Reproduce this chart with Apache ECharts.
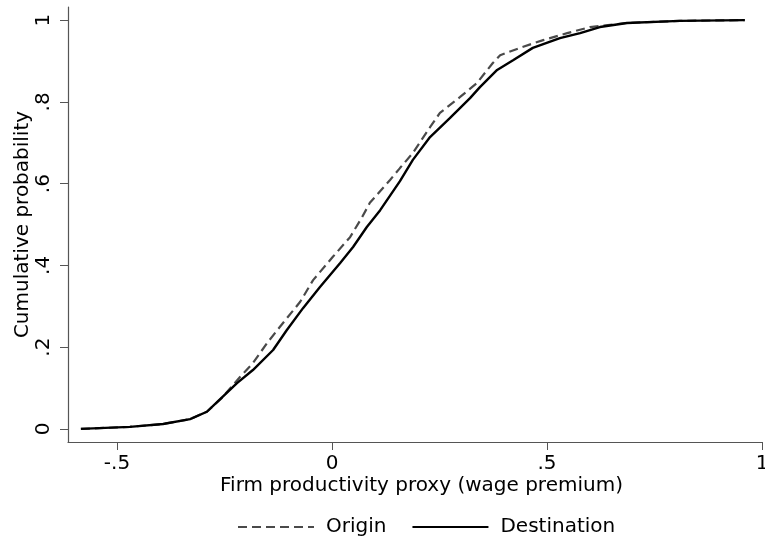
<!DOCTYPE html>
<html>
<head>
<meta charset="utf-8">
<script src="https://cdn.jsdelivr.net/npm/echarts@6/dist/echarts.min.js"></script>
<style>
  html, body { margin: 0; padding: 0; background: #fff; }
  #chart { width: 765px; height: 539px; }
</style>
</head>
<body>
<div id="chart"></div>
<script>
// values (CDF of firm wage premium)
const originX = [-0.584, -0.470, -0.393, -0.330, -0.291, -0.256, -0.214, -0.184, -0.151, -0.121, -0.074, -0.044, 0.002, 0.042, 0.070, 0.088, 0.135, 0.158, 0.188, 0.228, 0.251, 0.298, 0.337, 0.374, 0.391, 0.437, 0.491, 0.547, 0.600, 0.686, 0.809, 0.960];
const originY = [0.000, 0.005, 0.012, 0.024, 0.042, 0.076, 0.127, 0.161, 0.210, 0.250, 0.311, 0.364, 0.421, 0.469, 0.518, 0.553, 0.609, 0.638, 0.675, 0.738, 0.773, 0.812, 0.846, 0.895, 0.914, 0.932, 0.951, 0.968, 0.983, 0.993, 0.998, 1.000];

const destX = [-0.584, -0.470, -0.393, -0.330, -0.291, -0.265, -0.221, -0.184, -0.137, -0.105, -0.067, -0.028, 0.019, 0.049, 0.081, 0.112, 0.158, 0.188, 0.228, 0.274, 0.321, 0.344, 0.384, 0.421, 0.467, 0.530, 0.577, 0.623, 0.686, 0.809, 0.960];
const destY = [0.000, 0.005, 0.012, 0.024, 0.042, 0.068, 0.112, 0.144, 0.193, 0.242, 0.296, 0.347, 0.406, 0.445, 0.494, 0.535, 0.606, 0.658, 0.714, 0.760, 0.809, 0.836, 0.878, 0.902, 0.932, 0.956, 0.968, 0.983, 0.993, 0.998, 1.000];

const xTicks = [-0.5, 0, 0.5, 1];
const yTicks = [0, 0.2, 0.4, 0.6, 0.8, 1];

function stataLabel(v) {
  if (v === 0) return '0';
  return String(v).replace('0.', '.');
}

const chart = echarts.init(document.getElementById('chart'));
const font = 'DejaVu Sans';

const option = {
  animation: false,
  textStyle: { fontFamily: font },
  grid: { left: 68, right: 3, top: 7, bottom: 97, outerBoundsMode: 'none', containLabel: false },
  legend: {
    top: 512,
    left: 232,
    itemWidth: 76,
    itemHeight: 14,
    itemGap: 25,
    itemStyle: { opacity: 0 },
    textStyle: { fontSize: 20, color: '#000', fontFamily: font, padding: [0, 0, 0, 7] },
    data: ['Origin', 'Destination']
  },
  xAxis: {
    type: 'value',
    min: -0.614,
    max: 1,
    name: 'Firm productivity proxy (wage premium)',
    nameLocation: 'middle',
    nameGap: 34,
    nameMoveOverlap: false,
    nameTextStyle: { fontSize: 20, color: '#000', fontFamily: font, padding: [0, 0, 0, 13] },
    axisLine: { onZero: false, lineStyle: { color: '#555', width: 1.2 } },
    axisTick: { customValues: xTicks, length: 8, lineStyle: { color: '#555' } },
    axisLabel: { customValues: xTicks, formatter: stataLabel, fontSize: 20, color: '#000', margin: 12 },
    splitLine: { show: false }
  },
  yAxis: {
    type: 'value',
    min: -0.032,
    max: 1.032,
    name: 'Cumulative probability',
    nameLocation: 'middle',
    nameGap: 35,
    nameMoveOverlap: false,
    nameTextStyle: { fontSize: 20, color: '#000', fontFamily: font },
    axisLine: { show: true, onZero: false, lineStyle: { color: '#555', width: 1.2 } },
    axisTick: { show: true, customValues: yTicks, length: 8, lineStyle: { color: '#555' } },
    axisLabel: { customValues: yTicks, formatter: stataLabel, fontSize: 20, color: '#000', rotate: 90, margin: 14 },
    splitLine: { show: false }
  },
  series: [
    {
      name: 'Origin',
      type: 'line',
      symbol: 'none',
      data: originX.map((x, i) => [x, originY[i]]),
      lineStyle: { color: '#4a4a4a', width: 2.2, type: [9, 5] },
      itemStyle: { color: '#4a4a4a' },
      z: 2
    },
    {
      name: 'Destination',
      type: 'line',
      symbol: 'none',
      data: destX.map((x, i) => [x, destY[i]]),
      lineStyle: { color: '#000', width: 2.4 },
      itemStyle: { color: '#000' },
      z: 3
    }
  ]
};
chart.setOption(option);
</script>
</body>
</html>
